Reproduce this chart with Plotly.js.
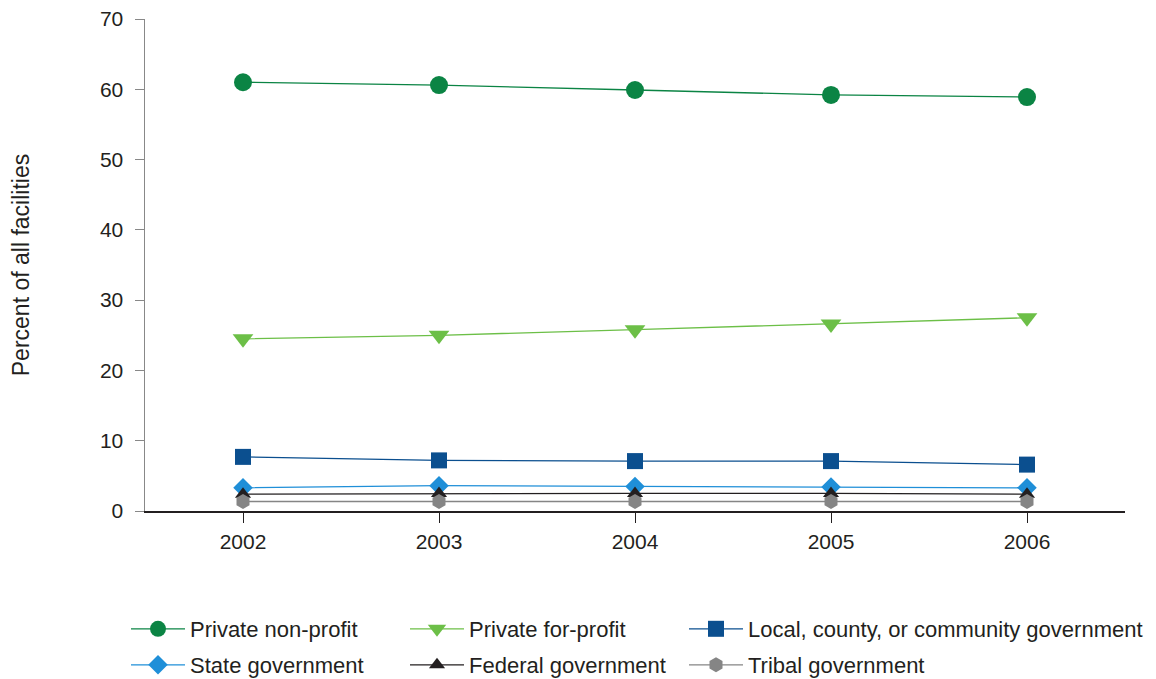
<!DOCTYPE html>
<html>
<head>
<meta charset="utf-8">
<script src="https://cdn.plot.ly/plotly-3.0.1.min.js"></script>
<style>html,body{margin:0;padding:0;background:#fff;}#chart{width:1156px;height:679px;}</style>
</head>
<body>
<div id="chart"></div>
<script>
const years = ["2002", "2003", "2004", "2005", "2006"];
const privateNonProfit = [61.0, 60.6, 59.9, 59.2, 58.9];
const privateForProfit = [24.5, 25.0, 25.8, 26.6, 27.5];
const localGov = [7.7, 7.2, 7.1, 7.1, 6.6];
const stateGov = [3.3, 3.6, 3.5, 3.4, 3.3];
const federalGov = [2.4, 2.5, 2.5, 2.5, 2.4];
const tribalGov = [1.35, 1.35, 1.35, 1.35, 1.35];
const seriesNames = ["Private non-profit", "Private for-profit", "Local, county, or community government",
  "State government", "Federal government", "Tribal government"];

const styles = [
  {color: "#0b8444", symbol: "circle", size: 18},
  {color: "#6cbf47", symbol: "triangle-down", size: 18},
  {color: "#0b4f8f", symbol: "square", size: 16},
  {color: "#1f8fd8", symbol: "diamond", size: 15},
  {color: "#231f20", symbol: "triangle-up", size: 14},
  {color: "#858585", symbol: "hexagon", size: 15}
];
const values = [privateNonProfit, privateForProfit, localGov, stateGov, federalGov, tribalGov];

// legend slot per series: column x (px) and row y (px)
const colX = [126, 405, 684];
const rowY = [629, 665];

const legendIds = ["legend", "legend2", "legend3", "legend4", "legend5", "legend6"];

const traces = values.map((v, i) => ({
  x: years, y: v, name: seriesNames[i], type: "scatter", mode: "lines+markers",
  legend: legendIds[i],
  line: {color: styles[i].color, width: 1.3},
  marker: {color: styles[i].color, symbol: styles[i].symbol, size: styles[i].size}
}));

const layout = {
  width: 1156, height: 679,
  margin: {l: 145, r: 31, t: 19, b: 168},
  paper_bgcolor: "#fff", plot_bgcolor: "#fff",
  font: {family: "Liberation Sans, Arial, sans-serif", size: 21, color: "#231f20"},
  showlegend: true,
  xaxis: {
    type: "category", range: [-0.5, 4.5],
    showline: true, linecolor: "#231f20", linewidth: 1.5,
    ticks: "outside", ticklen: 10, tickcolor: "#231f20", tickwidth: 1,
    showgrid: false, zeroline: false,
    tickfont: {size: 21}, ticklabelstandoff: 1
  },
  yaxis: {
    range: [0, 70], dtick: 10,
    showline: true, linecolor: "#888", linewidth: 1.5,
    ticks: "outside", ticklen: 9, tickcolor: "#888", tickwidth: 1,
    showgrid: false, zeroline: false,
    tickfont: {size: 21}, ticklabelstandoff: 7,
    title: {text: "Percent of all facilities", font: {size: 23}, standoff: 64}
  }
};

legendIds.forEach((id, i) => {
  layout[id] = {
    orientation: "h", xref: "container", yref: "container",
    x: colX[i % 3] / 1156, y: 1 - rowY[Math.floor(i / 3)] / 679,
    xanchor: "left", yanchor: "middle", itemwidth: 54,
    font: {size: 22, family: "Liberation Sans, Arial, sans-serif", color: "#231f20"},
    bgcolor: "rgba(0,0,0,0)"
  };
});

Plotly.newPlot("chart", traces, layout, {displayModeBar: false, staticPlot: true});
</script>
</body>
</html>
